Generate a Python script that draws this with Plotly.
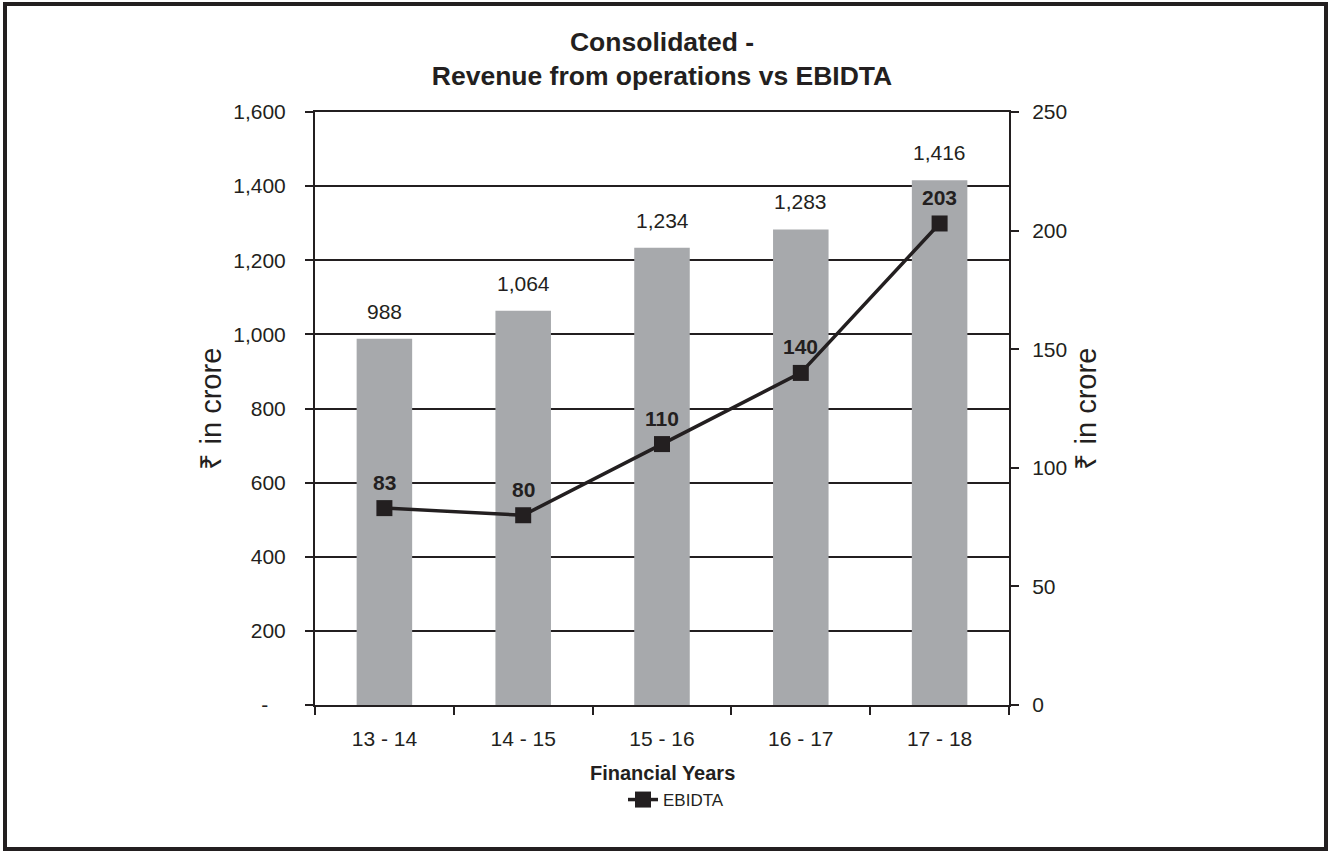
import plotly.graph_objs as go

# chart data
years = ["13 - 14", "14 - 15", "15 - 16", "16 - 17", "17 - 18"]
revenue = [988, 1064, 1234, 1283, 1416]
ebidta = [83, 80, 110, 140, 203]
left_ticks = [0, 200, 400, 600, 800, 1000, 1200, 1400, 1600]
left_tick_text = ["-\u00a0\u00a0\u00a0", "200", "400", "600", "800", "1,000", "1,200", "1,400", "1,600"]

INK = "#231f20"
BAR = "#a7a9ac"
FONT = "Liberation Sans, Arial, Helvetica, sans-serif"

W, H = 1329, 852
L, R, T, B = 315, 320, 112, 147
plot_w = W - L - R
plot_h = H - T - B


def px_x(px):
    # page pixel -> paper x
    return (px - L) / plot_w


def px_y(py):
    # page pixel -> paper y
    return (T + plot_h - py) / plot_h


fig = go.Figure()

# Revenue bars
fig.add_trace(
    go.Bar(
        x=years,
        y=revenue,
        name="Revenue from operations",
        marker=dict(color=BAR, line=dict(width=0)),
        width=0.4,
        showlegend=False,
        yaxis="y",
    )
)

# EBIDTA line on right axis
fig.add_trace(
    go.Scatter(
        x=years,
        y=ebidta,
        mode="lines+markers",
        name="EBIDTA",
        line=dict(color=INK, width=3.5),
        marker=dict(symbol="square", color=INK, size=16),
        yaxis="y2",
    )
)

annotations = []

# bar value labels
for yr, v in zip(years, revenue):
    annotations.append(dict(
        x=yr, y=v, xref="x", yref="y", text=f"{v:,}", showarrow=False,
        yanchor="bottom", yshift=14, font=dict(size=21, color=INK, family=FONT),
    ))

# EBIDTA labels
for yr, v in zip(years, ebidta):
    annotations.append(dict(
        x=yr, y=v, xref="x", yref="y2", text=f"<b>{v}</b>", showarrow=False,
        yanchor="middle", yshift=26, font=dict(size=21, color=INK, family=FONT),
    ))

# axis titles
for xpix in (210, 1085):
    annotations.append(dict(
        x=px_x(xpix), y=0.5, xref="paper", yref="paper", text="₹ in crore",
        xanchor="center", yanchor="middle",
        textangle=-90, showarrow=False, font=dict(size=29, color=INK, family=FONT),
    ))
annotations.append(dict(
    x=0.5, y=px_y(773), xref="paper", yref="paper",
    xanchor="center", yanchor="middle",
    text="<b>Financial Years</b>", showarrow=False,
    font=dict(size=20, color=INK, family=FONT),
))

fig.update_layout(
    width=W,
    height=H,
    margin=dict(l=L, r=R, t=T, b=B),
    paper_bgcolor="white",
    plot_bgcolor="white",
    font=dict(family=FONT, color=INK, size=20),
    title=dict(
        text="<b>Consolidated -<br>Revenue from operations vs EBIDTA</b>",
        x=0.5, xref="paper", y=1 - 51 / H, yanchor="middle",
        font=dict(size=26.5, color=INK, family=FONT),
    ),
    bargap=0.6,
    xaxis=dict(
        type="category",
        range=[-0.5, 4.5],
        showline=True, linecolor=INK, linewidth=2, mirror=True,
        ticks="outside", tickson="boundaries", ticklen=8, tickwidth=2, tickcolor=INK,
        ticklabelstandoff=14,
        tickfont=dict(size=21, color=INK),
        showgrid=False,
    ),
    yaxis=dict(
        range=[0, 1600],
        tickvals=left_ticks, ticktext=left_tick_text,
        showline=True, linecolor=INK, linewidth=2,
        ticks="outside", ticklen=8, tickwidth=2, tickcolor=INK,
        ticklabelstandoff=15,
        tickfont=dict(size=21, color=INK),
        showgrid=True, gridcolor=INK, gridwidth=2,
        zeroline=False,
    ),
    yaxis2=dict(
        range=[0, 250],
        dtick=50,
        overlaying="y",
        side="right",
        showline=True, linecolor=INK, linewidth=2,
        ticks="outside", ticklen=8, tickwidth=2, tickcolor=INK,
        ticklabelstandoff=9,
        tickfont=dict(size=21, color=INK),
        showgrid=False, zeroline=False,
    ),
    legend=dict(
        orientation="h",
        x=px_x(676), xanchor="center",
        y=px_y(800), yanchor="middle",
        font=dict(size=17, color=INK),
        bgcolor="rgba(0,0,0,0)",
    ),
    annotations=annotations,
    shapes=[dict(
        type="rect", xref="paper", yref="paper",
        x0=px_x(5), x1=px_x(W - 3),
        y0=px_y(H - 3), y1=px_y(4),
        line=dict(color=INK, width=4),
    )],
)

fig.write_html(
    "out.html",
    config={"displayModeBar": False},
    post_script="document.body.style.margin='0px';",
)
